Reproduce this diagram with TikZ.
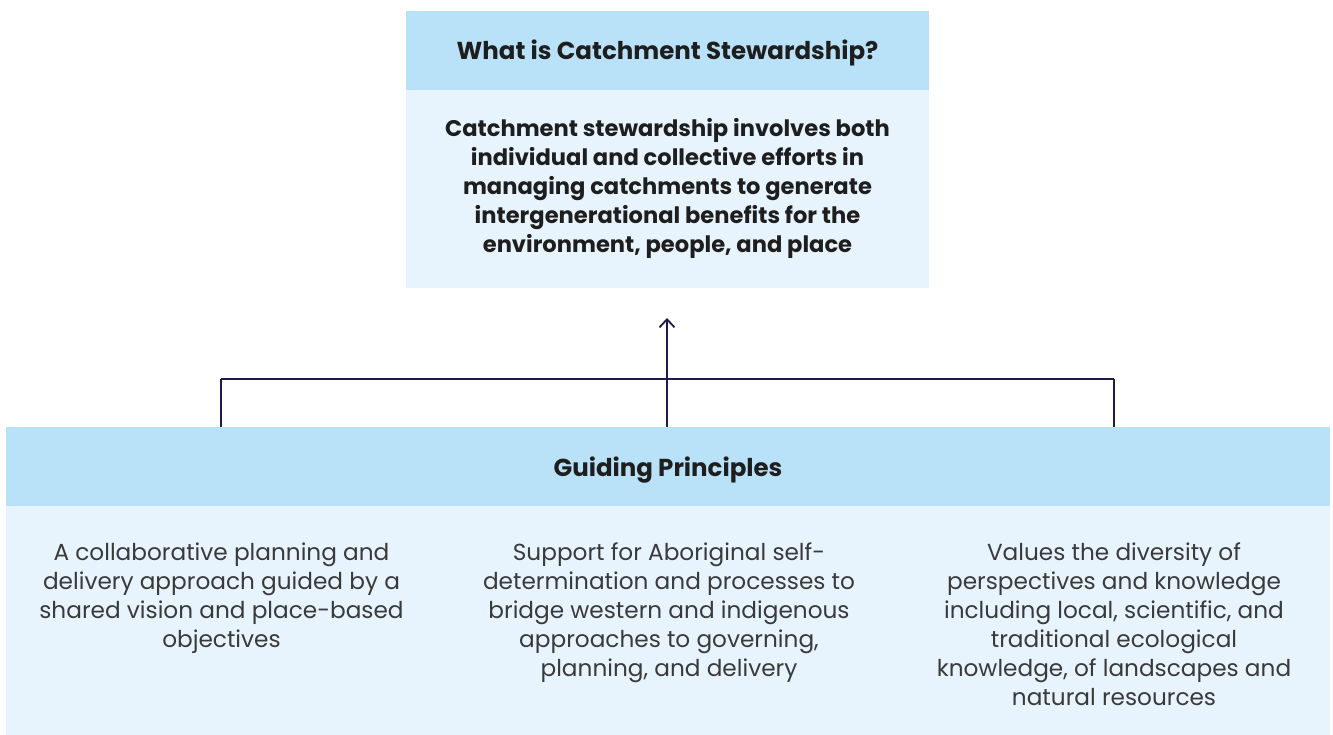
\documentclass[tikz,border=0pt]{standalone}
\usepackage{fontspec}
\setmainfont{Poppins}
\usetikzlibrary{arrows.meta,positioning}
\definecolor{headblue}{HTML}{B9E1F7}
\definecolor{bodyblue}{HTML}{E8F4FD}
\definecolor{navy}{HTML}{1E1A4A}
\definecolor{darktext}{HTML}{1E1E1E}
\definecolor{greytext}{HTML}{3A3A3A}
\tikzset{
  headbox/.style={rectangle, fill=headblue, inner sep=0pt, text=darktext},
  headtext/.style={inner sep=0pt, text=darktext, font=\fontsize{24.5}{30}\selectfont\bfseries},
  bodybox/.style={rectangle, fill=bodyblue, inner sep=0pt},
  boldtext/.style={align=center, inner sep=0pt, text=darktext,
    font=\fontsize{22.6}{29}\selectfont\bfseries},
  lighttext/.style={align=center, inner sep=0pt, text=greytext,
    font=\fontsize{23.2}{29}\selectfont},
  link/.style={draw=navy, line width=1.7pt},
  bar/.style={draw=navy, line width=2.4pt},
}
\begin{document}
\begin{tikzpicture}[x=1pt,y=-1pt]
\useasboundingbox (0,0) rectangle (1333,735);
% top box
\node[headbox, minimum width=523pt, minimum height=79pt] (whathead) at (667.5,50.5) {};
\node[headtext, anchor=base] (whattitle) at (667.5,60) {What is Catchment Stewardship?};
\node[bodybox, minimum width=523pt, minimum height=198pt, below=0pt of whathead] (whatbody) {};
\node[boldtext, anchor=north] (whattext) at (667.5,118.5) {Catchment stewardship involves both\\individual and collective efforts in\\managing catchments to generate\\intergenerational benefits for the\\environment, people, and place};
% bottom box
\node[headbox, minimum width=1324pt, minimum height=79pt] (gphead) at (668,466.5) {};
\node[headtext, anchor=base] (gptitle) at (668,476) {Guiding Principles};
\node[bodybox, minimum width=1324pt, minimum height=229pt, below=0pt of gphead] (gpbody) {};
\node[lighttext, anchor=north] (p1) at (221.5,543) {A collaborative planning and\\delivery approach guided by a\\shared vision and place-based\\objectives};
\node[lighttext, anchor=north] (p2) at (669,543) {Support for Aboriginal self-\\determination and processes to\\bridge western and indigenous\\approaches to governing,\\planning, and delivery};
\node[lighttext, anchor=north] (p3) at (1114,543) {Values the diversity of\\perspectives and knowledge\\including local, scientific, and\\traditional ecological\\knowledge, of landscapes and\\natural resources};
% connectors
\coordinate (legL) at (221,379);
\coordinate (legR) at (1114,379);
\coordinate (legM) at (667,379);
\coordinate (tip) at (667,318);
\draw[link] (gphead.north -| legL) -- (legL);
\draw[link] (gphead.north -| legR) -- (legR);
\draw[bar] (legL) -- (legR);
\draw[link, -{Straight Barb[length=8pt,width=15pt,line width=1.8pt]}] (gphead.north -| legM) -- (tip);
\end{tikzpicture}
\end{document}
